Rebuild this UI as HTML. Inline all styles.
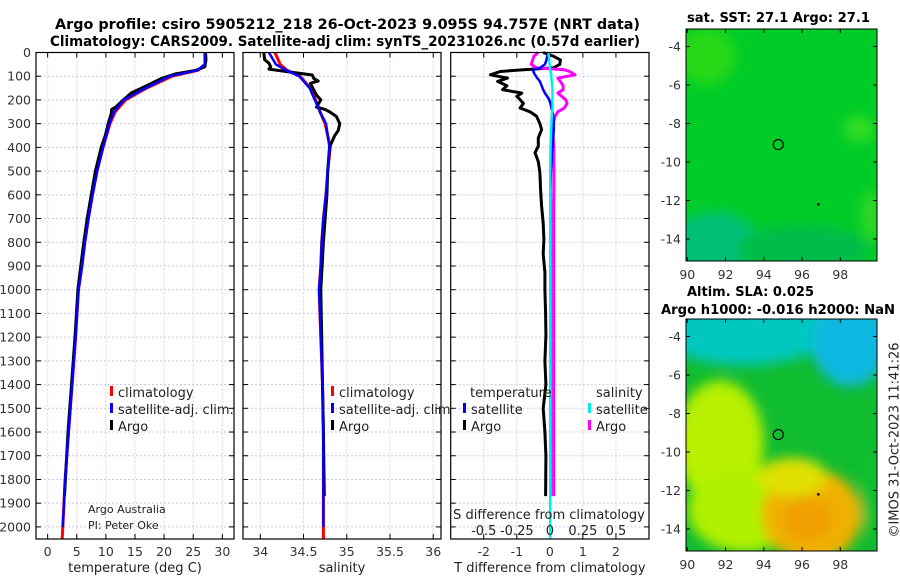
<!DOCTYPE html>
<html><head><meta charset="utf-8"><style>
body{margin:0;background:#fff;}
svg{display:block;font-family:"DejaVu Sans","Liberation Sans",sans-serif;}
.tk{font-size:12.5px;fill:#333;}
.tt{font-size:14px;font-weight:bold;fill:#000;}
.mt{font-size:13.5px;font-weight:bold;fill:#000;}
.lg{font-size:13px;fill:#222;}
</style></head><body>
<svg id="fig" width="900" height="580" viewBox="0 0 900 580">
<defs>
<filter id="bl" x="-20%" y="-20%" width="140%" height="140%"><feGaussianBlur stdDeviation="6"/></filter>
<clipPath id="c1"><rect x="686" y="29" width="191" height="232"/></clipPath>
<clipPath id="c2"><rect x="686" y="319" width="191" height="232"/></clipPath>
</defs>
<text class="tt" x="55" y="29" textLength="585" lengthAdjust="spacingAndGlyphs">Argo profile: csiro 5905212_218 26-Oct-2023 9.095S 94.757E (NRT data)</text>
<text class="tt" x="50" y="46" textLength="590" lengthAdjust="spacingAndGlyphs">Climatology: CARS2009. Satellite-adj clim: synTS_20231026.nc (0.57d earlier)</text>
<g id="p1"></g>
<g id="p2"></g>
<g id="p3"></g>
<g id="m1"></g>
<g id="m2"></g>
<text x="895" y="440" transform="rotate(-90 895 440)" text-anchor="middle" dominant-baseline="central" style="font-size:13px;fill:#222">©IMOS 31-Oct-2023 11:41:26</text>
</svg>
<script>
const depthTicks=[0,100,200,300,400,500,600,700,800,900,1000,1100,1200,1300,1400,1500,1600,1700,1800,1900,2000];
const climDepth=[0,50,75,100,150,200,250,300,400,500,600,700,800,900,1000,1200,1400,1600,1800,2000,2050];
const climTemp=[27.0,27.0,25.8,21.4,17.0,13.4,11.6,10.7,9.5,8.5,7.7,7.0,6.4,5.9,5.3,4.8,4.2,3.6,3.0,2.6,2.5];
const satTemp=[27.0,27.0,25.7,21.0,16.8,13.1,11.4,10.6,9.5,8.5,7.7,7.0,6.4,5.9,5.3,4.8,4.2,3.6,3.0,2.6];
const argoDepth=[0,30,60,75,90,110,140,170,200,230,240,260,300,350,400,430,500,600,700,800,900,1000,1200,1400,1600,1870];
const argoTemp=[27.1,27.2,27.0,25.5,22.0,19.5,17.0,14.4,13.0,11.7,11.0,10.9,10.4,9.9,9.2,8.9,8.2,7.5,6.8,6.2,5.7,5.2,4.7,4.1,3.5,2.9];
const climSal=[34.17,34.23,34.31,34.46,34.58,34.64,34.69,34.75,34.81,34.78,34.76,34.73,34.71,34.70,34.68,34.70,34.72,34.73,34.73,34.73,34.73];
const satSal=[34.1,34.18,34.3,34.45,34.57,34.63,34.69,34.76,34.80,34.78,34.76,34.73,34.71,34.70,34.68,34.70,34.72,34.73,34.73,34.73];
const argoSalDepth=[0,30,45,60,70,80,95,110,120,130,180,200,230,240,250,270,300,330,350,400,500,600,800,1000,1200,1400,1600,1870];
const argoSal=[34.04,34.05,34.1,34.12,34.1,34.3,34.6,34.62,34.67,34.58,34.65,34.7,34.65,34.75,34.8,34.88,34.92,34.9,34.86,34.8,34.78,34.77,34.73,34.70,34.71,34.72,34.73,34.74];
const diffDepth=[0,15,31,50,65,73,80,94,108,122,140,157,171,185,199,215,234,250,269,300,325,360,395,423,460,507,580,647,720,787,850,927,1000,1100,1193,1300,1400,1500,1600,1700,1870];
const argoTDiff=[-0.2,0.1,0.32,0.3,0.1,-0.8,-1.5,-1.8,-1.28,-1.58,-1.3,-1.43,-0.85,-1.0,-0.9,-0.8,-0.9,-0.6,-0.4,-0.3,-0.25,-0.35,-0.35,-0.45,-0.35,-0.3,-0.28,-0.25,-0.2,-0.18,-0.2,-0.15,-0.15,-0.13,-0.12,-0.15,-0.12,-0.2,-0.15,-0.12,-0.13];
const satTDiff=[-0.05,-0.08,-0.1,-0.15,-0.3,-0.48,-0.5,-0.45,-0.38,-0.3,-0.25,-0.2,-0.15,-0.08,-0.02,0.02,0.05,0.08,0.1,0.12,0.12,0.1,0.08,0.06,0.05,0.03,0.02,0.02,0.02,0.02,0.02,0.02,0.02,0.02,0.02,0.02,0.02,0.02,0.02,0.02,0.02];
const argoSDiff=[-0.09,-0.12,-0.13,-0.14,-0.1,0.11,0.15,0.19,0.06,0.08,0.1,0.1,0.06,0.09,0.12,0.13,0.11,0.06,0.04,0.025,0.02,0.025,0.028,0.03,0.03,0.03,0.03,0.028,0.028,0.028,0.028,0.028,0.028,0.028,0.028,0.028,0.028,0.028,0.028,0.028,0.028];
const satSDiff=[-0.01,-0.008,-0.005,-0.002,0,0.003,0.006,0.01,0.012,0.015,0.018,0.02,0.02,0.02,0.02,0.02,0.02,0.018,0.015,0.012,0.01,0.008,0.006,0.005,0.004,0.003,0.003,0.003,0.003,0.003,0.003,0.003,0.003,0.003,0.003,0.003,0.003,0.003,0.003,0.003,0.003];
const tempTicks=[0,5,10,15,20,25,30];
const salTicks=[34,34.5,35,35.5,36];
const salTickLabels=["34","34.5","35","35.5","36"];
const tdTicks=[-2,-1,0,1,2];
const sdTicks=[-0.5,-0.25,0,0.25,0.5];
const sdTickLabels=["-0.5","-0.25","0","0.25","0.5"];
const lonTicks=[90,92,94,96,98];
const latTicks=[-4,-6,-8,-10,-12,-14];
const argoLon=94.757, argoLat=-9.095;

const NS="http://www.w3.org/2000/svg";
function mk(p,tag,a,txt){const e=document.createElementNS(NS,tag);for(const k in a)e.setAttribute(k,a[k]);if(txt!==undefined)e.textContent=txt;p.appendChild(e);return e;}
const Y0=52.5,YB=539;
const yD=d=>Y0+d*0.2372;
function lin(d0,d1,r0,r1){return v=>r0+(v-d0)*(r1-r0)/(d1-d0);}

function panel(g,x0,x1,xs,ticks,labels,xlabel,showY){
  mk(g,'rect',{x:x0,y:Y0,width:x1-x0,height:YB-Y0,fill:'#fff'});
  const gr=mk(g,'g',{});
  
  
  depthTicks.forEach(d=>{mk(gr,'line',{x1:x0,x2:x1,y1:yD(d),y2:yD(d),stroke:'#c4c8ec','stroke-width':1,'stroke-dasharray':'2,2'});
    mk(gr,'line',{x1:x0,x2:x0+5,y1:yD(d),y2:yD(d),stroke:'#000'});mk(gr,'line',{x1:x1-5,x2:x1,y1:yD(d),y2:yD(d),stroke:'#000'});
    if(showY){const t=mk(g,'text',{x:31,y:yD(d)+4.5,'text-anchor':'end',class:'tk'},String(d));}
  });
  ticks.forEach((v,i)=>{const x=xs(v);mk(gr,'line',{x1:x,x2:x,y1:Y0,y2:YB,stroke:'#e8cdbf','stroke-width':1,'stroke-dasharray':'2,2'});
    mk(gr,'line',{x1:x,x2:x,y1:YB,y2:YB-5,stroke:'#000'});mk(gr,'line',{x1:x,x2:x,y1:Y0,y2:Y0+5,stroke:'#000'});
    const t=mk(g,'text',{x:x,y:556,'text-anchor':'middle',class:'tk'},labels[i]);});
  const xl=mk(g,'text',{x:(x0+x1)/2,y:572,'text-anchor':'middle',class:'lg'},xlabel);
  
  
}
function border(g,x0,x1){mk(g,'rect',{x:x0,y:Y0,width:x1-x0,height:YB-Y0,fill:'none',stroke:'#000','stroke-width':1.2});}
function line(g,depths,vals,xs,col,w,name){
  const pts=vals.map((v,i)=>xs(v).toFixed(1)+','+yD(depths[i]).toFixed(1)).join(' ');
  const p=mk(g,'polyline',{points:pts,fill:'none',stroke:col,'stroke-width':w,'stroke-linejoin':'round'});
  
  
}
function leg(g,x,y,col,txt){mk(g,'rect',{x:x,y:y-11,width:3,height:10,fill:col});
  const t=mk(g,'text',{x:x+8,y:y,class:'lg'},txt);}

// panel 1
const p1=document.getElementById('p1');const xT=lin(-2,32,36,234);
panel(p1,36,234,xT,tempTicks,tempTicks.map(String),'temperature (deg C)',true);
line(p1,climDepth,climTemp,xT,'#f00',3,'temperature-climatology-line');
line(p1,argoDepth,argoTemp,xT,'#000',3,'temperature-argo-line');
line(p1,climDepth.slice(0,satTemp.length),satTemp,xT,'#00f',2.5,'temperature-satellite-line');
border(p1,36,234);
leg(p1,110,397,'#f00','climatology');leg(p1,110,414,'#00f','satellite-adj. clim.');leg(p1,110,431,'#000','Argo');
mk(p1,'text',{x:88,y:513,style:'font-size:11px;fill:#222'},'Argo Australia');
mk(p1,'text',{x:88,y:529,style:'font-size:11px;fill:#222'},'PI: Peter Oke');

// panel 2
const p2=document.getElementById('p2');const xS=lin(33.8,36.09,243,441);
panel(p2,243,441,xS,salTicks,salTickLabels,'salinity',false);
line(p2,climDepth,climSal,xS,'#f00',3,'salinity-climatology-line');
line(p2,argoSalDepth,argoSal,xS,'#000',3,'salinity-argo-line');
line(p2,climDepth.slice(0,satSal.length),satSal,xS,'#00f',2.5,'salinity-satellite-line');
border(p2,243,441);
leg(p2,331,397,'#f00','climatology');leg(p2,331,414,'#00f','satellite-adj. clim.');leg(p2,331,431,'#000','Argo');

// panel 3
const p3=document.getElementById('p3');const xTD=lin(-3,3,450.7,649);const xSD=lin(-0.75,0.75,450.7,649);
panel(p3,450.7,649,xTD,tdTicks,tdTicks.map(String),'T difference from climatology',false);
line(p3,diffDepth,argoTDiff,xTD,'#000',3,'argo-temperature-difference-line');
line(p3,diffDepth,argoSDiff,xSD,'#f0f',3,'argo-salinity-difference-line');
line(p3,diffDepth,satTDiff,xTD,'#00f',2.5,'satellite-temperature-difference-line');
line(p3,diffDepth.concat([2050]),satSDiff.concat([0.003]),xSD,'#0ee',2.5,'satellite-salinity-difference-line');
border(p3,450.7,649);
mk(p3,'text',{x:470,y:397,class:'lg'},'temperature');mk(p3,'text',{x:596,y:397,class:'lg'},'salinity');
leg(p3,463,414,'#00f','satellite');leg(p3,463,431,'#000','Argo');
leg(p3,588,414,'#0ee','satellite');leg(p3,588,431,'#f0f','Argo');
const sdt=mk(p3,'text',{x:549,y:519,'text-anchor':'middle',class:'lg'},'S difference from climatology');


sdTicks.forEach((v,i)=>{const t=mk(p3,'text',{x:xSD(v),y:535,'text-anchor':'middle',class:'lg'},sdTickLabels[i]);});

// maps
const lonX=lin(90,98,687.3,840.3);
function map(g,top,clip,blobs,base){
  const latY=lin(-4,-14,top+17.5,top+210);
  mk(g,'rect',{x:686,y:top,width:191,height:232,fill:base});
  const bg=mk(g,'g',{'clip-path':'url(#'+clip+')'});
  const bb=mk(bg,'g',{filter:'url(#bl)'});
  blobs.forEach(b=>mk(bb,'ellipse',{cx:lonX(b[0]),cy:latY(b[1]),rx:b[2]*19.1,ry:b[3]*19.3,fill:b[4]}));
  mk(g,'rect',{x:686,y:top,width:191,height:232,fill:'none',stroke:'#000','stroke-width':1});
  lonTicks.forEach(v=>{mk(g,'line',{x1:lonX(v),x2:lonX(v),y1:top+232,y2:top+228,stroke:'#000'});mk(g,'line',{x1:lonX(v),x2:lonX(v),y1:top,y2:top+4,stroke:'#000'});
    const t=mk(g,'text',{x:lonX(v),y:top+250,'text-anchor':'middle',class:'tk'},String(v));});
  latTicks.forEach(v=>{mk(g,'line',{x1:686,x2:690,y1:latY(v),y2:latY(v),stroke:'#000'});mk(g,'line',{x1:873,x2:877,y1:latY(v),y2:latY(v),stroke:'#000'});
    const t=mk(g,'text',{x:681,y:latY(v)+4.5,'text-anchor':'end',class:'tk'},String(v));});
  const c=mk(g,'circle',{cx:lonX(argoLon),cy:latY(argoLat),r:5,fill:'none',stroke:'#000','stroke-width':1.2});
  
  
  mk(g,'circle',{cx:lonX(96.85),cy:latY(-12.2),r:1.3,fill:'#000'});
}
const m1=document.getElementById('m1');
mk(m1,'text',{x:687,y:22,textLength:183,lengthAdjust:'spacingAndGlyphs',class:'mt'},'sat. SST: 27.1 Argo: 27.1');
map(m1,29,'c1',[[91,-4.5,1.5,1.5,'#28d818'],[99,-8.3,0.8,0.7,'#30dd20'],[91.5,-14.2,2.2,1.6,'#00c078'],[96,-14.5,3.5,1.2,'#00bc48'],[99.6,-12.8,0.5,1.3,'#30d820']],'#00cc28');
const m2=document.getElementById('m2');
mk(m2,'text',{x:687,y:296,textLength:127,lengthAdjust:'spacingAndGlyphs',class:'mt'},'Altim. SLA: 0.025');
mk(m2,'text',{x:661,y:314,textLength:234,lengthAdjust:'spacingAndGlyphs',class:'mt'},'Argo h1000: -0.016 h2000: NaN');
map(m2,319,'c2',[[93,-3.2,5,2.3,'#00c8c0'],[98.5,-4.3,2,2.3,'#10b8e0'],[91.7,-9.5,2.3,3.2,'#b8f000'],[93,-13,3,2.2,'#b0f000'],[96.5,-13.3,2.6,2.4,'#f0b000'],[96.3,-13.5,1.3,1.2,'#f0a000'],[95.5,-11.3,1.8,1.0,'#e0e000'],[99.6,-12,0.5,2.5,'#10c030']],'#10bc30');
</script>
</body></html>
